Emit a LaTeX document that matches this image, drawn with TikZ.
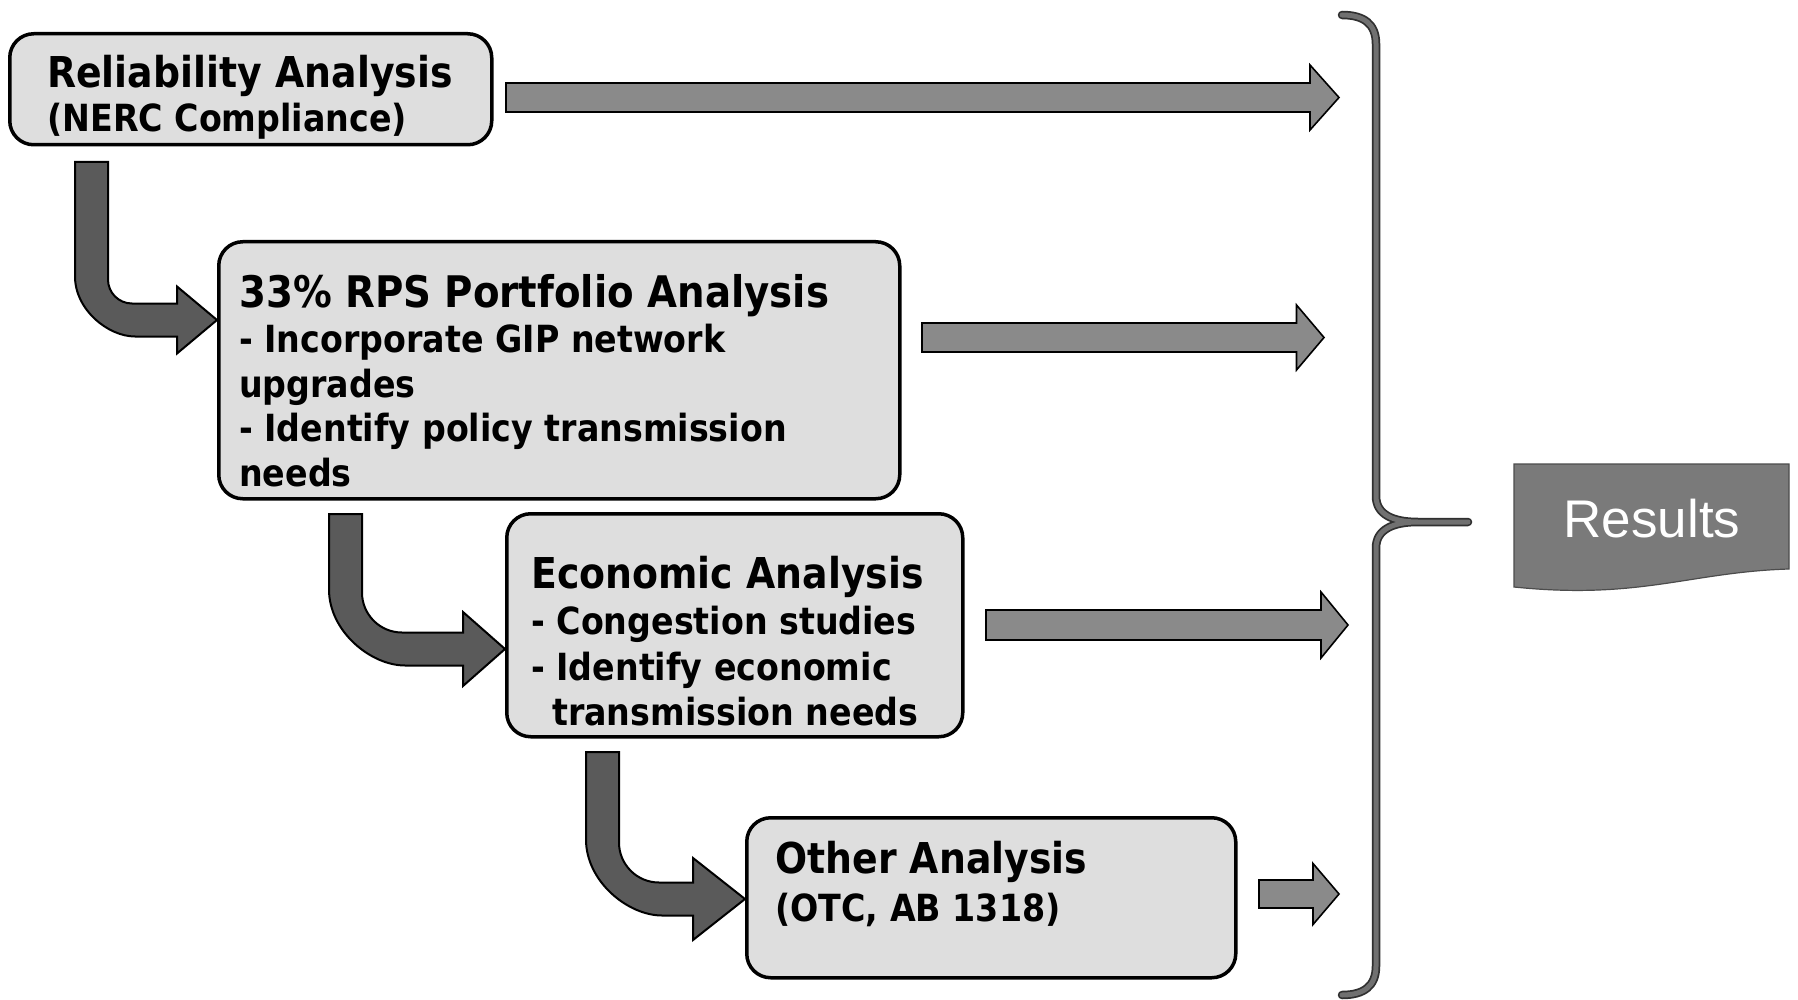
\documentclass[tikz,border=0pt]{standalone}
\usepackage{fontspec}
\setmainfont{Liberation Sans}
\newfontfamily\boxfont{DejaVu Sans}[FakeStretch=0.89]
\usetikzlibrary{calc}

\definecolor{boxfill}{HTML}{DEDEDE}
\definecolor{rarrowfill}{HTML}{8A8A8A}
\definecolor{larrowfill}{HTML}{5A5A5A}
\definecolor{bracegray}{HTML}{707070}
\definecolor{braceedge}{HTML}{303030}
\definecolor{resfill}{HTML}{7A7A7A}

\tikzset{
  stagebox/.style={draw=black, line width=3.5pt, fill=boxfill, rounded corners=24pt,
    inner sep=0pt, anchor=north west},
  ttl/.style={anchor=base west, inner sep=0pt, font=\boxfont\bfseries\fontsize{42.5}{46}\selectfont},
  bigttl/.style={anchor=base west, inner sep=0pt, font=\boxfont\bfseries\fontsize{43.5}{46}\selectfont},
  sub/.style={anchor=base west, inner sep=0pt, font=\boxfont\bfseries\fontsize{37.4}{46}\selectfont},
  rarrow/.style={draw=black, line width=1.6pt, fill=rarrowfill, line join=miter},
  larrow/.style={draw=black, line width=2pt, fill=larrowfill, line join=miter},
  braceouter/.style={draw=braceedge, line width=8.5pt, line cap=round},
  braceinner/.style={draw=bracegray, line width=5pt, line cap=round},
  resshape/.style={draw=black!70, line width=1.2pt, fill=resfill},
  restext/.style={text=white, inner sep=0pt, font=\fontsize{53}{60}\selectfont}
}

% straight block arrow: #1 start (shaft mid-left), #2 tip, #3 head length, #4 head half height, #5 shaft half height
\newcommand\blockarrow[5]{%
  \draw[rarrow] let \p1=(#1), \p2=(#2) in
    (\x1,{\y1+#5}) -- ({\x2-#3},{\y1+#5}) -- ({\x2-#3},{\y2+#4}) -- (\x2,\y2)
    -- ({\x2-#3},{\y2-#4}) -- ({\x2-#3},{\y1-#5}) -- (\x1,{\y1-#5}) -- cycle;}

% bent block arrow: #1 top-left of shaft, #2 tip, #3 head length, #4 head half height,
% #5 shaft width, #6 outer radius, #7 inner radius
\newcommand\bentarrow[7]{%
  \draw[larrow] let \p1=(#1), \p2=(#2) in
    (\x1,\y1) -- (\x1,{\y2-#5/2+#6})
    .. controls (\x1,{\y2-#5/2+0.448*#6}) and ({\x1+0.552*#6},{\y2-#5/2}) .. ({\x1+#6},{\y2-#5/2})
    -- ({\x2-#3},{\y2-#5/2}) -- ({\x2-#3},{\y2-#4}) -- (\x2,\y2)
    -- ({\x2-#3},{\y2+#4}) -- ({\x2-#3},{\y2+#5/2}) -- ({\x1+#5+#7},{\y2+#5/2})
    .. controls ({\x1+#5+0.448*#7},{\y2+#5/2}) and ({\x1+#5},{\y2+#5/2+0.448*#7}) .. ({\x1+#5},{\y2+#5/2+#7})
    -- ({\x1+#5},\y1) -- cycle;}

\newcommand\bracepath{(1342,15) .. controls (1364,15) and (1376,24) .. (1376,44)
  -- (1376,496) .. controls (1376,514) and (1392,522) .. (1418,522) -- (1468,522)
  (1418,522) .. controls (1392,522) and (1376,530) .. (1376,548)
  -- (1376,966) .. controls (1376,986) and (1364,995) .. (1342,995)}

\begin{document}
\begin{tikzpicture}[x=1pt, y=-1pt]
\useasboundingbox (0,0) rectangle (1798,1000);
\fill[white] (0,0) rectangle (1798,1000);

% boxes
\node[stagebox, minimum width=482pt, minimum height=111pt] (b1) at (8,32) {};
\node[stagebox, minimum width=681pt, minimum height=257pt] (b2) at (217,240) {};
\node[stagebox, minimum width=456pt, minimum height=223pt] (b3) at (505,512) {};
\node[stagebox, minimum width=489pt, minimum height=160pt] (b4) at (745,816) {};

% texts
\node[ttl] (t1a) at (47,88) {Reliability Analysis};
\node[sub] (t1b) at (47,132) {(NERC Compliance)};

\node[bigttl] (t2a) at (239,307) {33\% RPS Portfolio Analysis};
\node[sub] (t2b) at (239,352) {- Incorporate GIP network};
\node[sub] (t2c) at (239,397) {upgrades};
\node[sub] (t2d) at (239,441) {- Identify policy transmission};
\node[sub] (t2e) at (239,486) {needs};

\node[ttl] (t3a) at (531,588) {Economic Analysis};
\node[sub] (t3b) at (531,634) {- Congestion studies};
\node[sub] (t3c) at (531,680) {- Identify economic};
\node[sub] (t3d) at (552,725) {transmission needs};

\node[ttl] (t4a) at (775,873) {Other Analysis};
\node[sub] (t4b) at (775,921) {(OTC, AB 1318)};

% straight arrow coordinates
\coordinate (r1s) at (506,97.5);  \coordinate (r1t) at (1339,97.5);
\coordinate (r2s) at (922,337.5); \coordinate (r2t) at (1324,337.5);
\coordinate (r3s) at (986,625);   \coordinate (r3t) at (1348,625);
\coordinate (r4s) at (1259,894);  \coordinate (r4t) at (1339,894);

\blockarrow{r1s}{r1t}{29pt}{32.5pt}{14.5pt}
\blockarrow{r2s}{r2t}{27.5pt}{32.5pt}{14.5pt}
\blockarrow{r3s}{r3t}{27pt}{33pt}{15pt}
\blockarrow{r4s}{r4t}{26pt}{30.5pt}{14pt}

% bent arrow coordinates
\coordinate (a1s) at (75,162);  \coordinate (a1t) at (b2.west |- 0,320);
\coordinate (a2s) at (329,514); \coordinate (a2t) at (b3.west |- 0,649);
\coordinate (a3s) at (586,752); \coordinate (a3t) at (b4.west |- 0,899);

\bentarrow{a1s}{a1t}{40pt}{33.5pt}{33pt}{60pt}{24pt}
\bentarrow{a2s}{a2t}{42pt}{37pt}{33pt}{76pt}{40pt}
\bentarrow{a3s}{a3t}{52pt}{41pt}{33pt}{76pt}{40pt}

% brace
\draw[braceouter] \bracepath;
\draw[braceinner] \bracepath;

% results
\draw[resshape] (1514,464) -- (1789,464) -- (1789,569)
  .. controls (1690,572) and (1640,600) .. (1514,587) -- cycle;
\node[restext] (res) at (1652,519) {Results};
\end{tikzpicture}
\end{document}
